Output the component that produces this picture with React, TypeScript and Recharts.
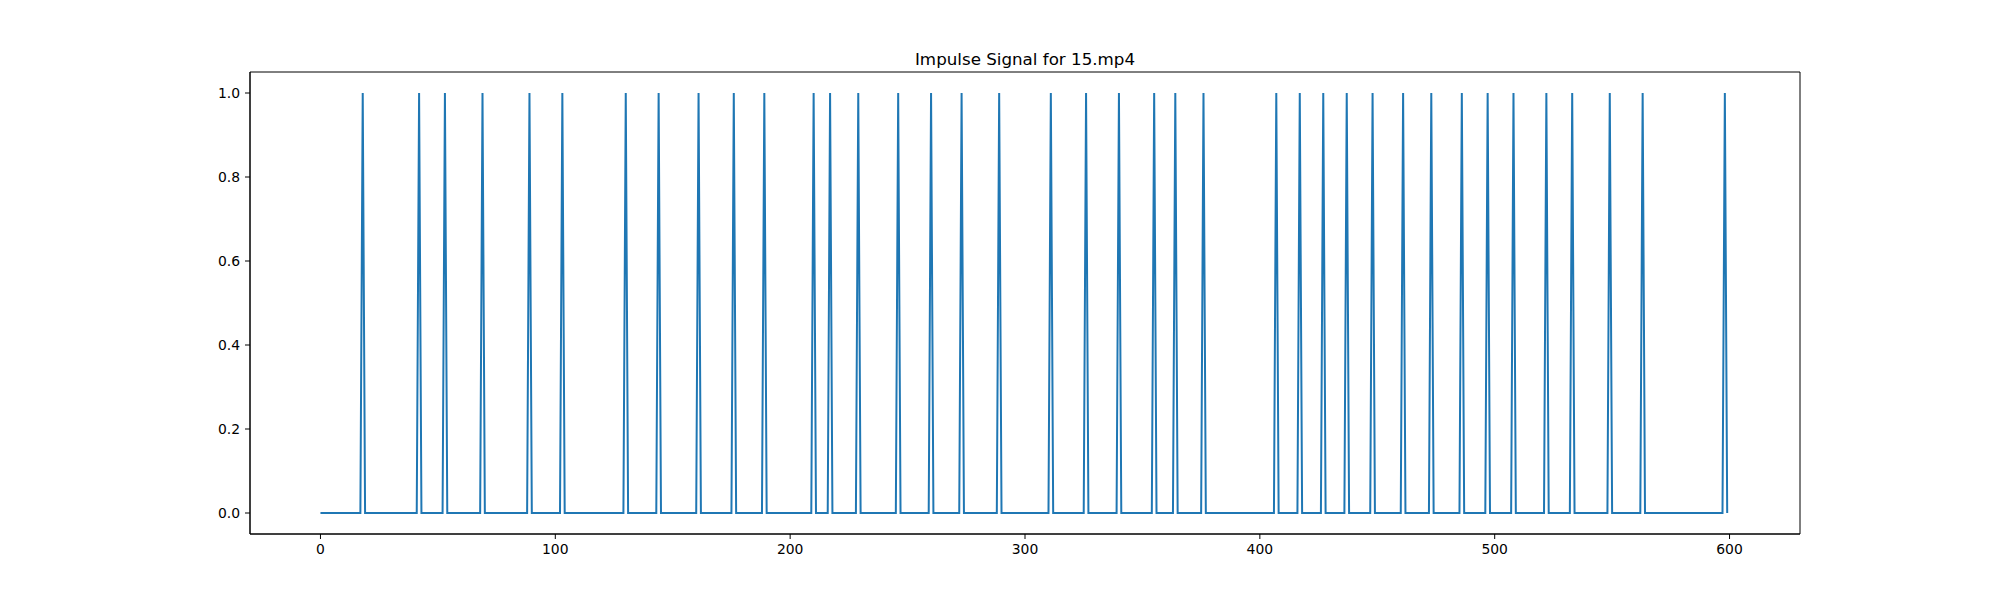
import { LineChart, Line, XAxis, YAxis, ReferenceArea } from "recharts";

// frame indices 0..599, impulses
const FRAME_COUNT = 600;
const SPIKE_FRAMES = [
  18, 42, 53, 69, 89, 103, 130, 144, 161, 176, 189, 210, 217, 229, 246, 260, 273, 289,
  311, 326, 340, 355, 364, 376, 407, 417, 427, 437, 448, 461, 473, 486, 497, 508, 522,
  533, 549, 563, 598,
];
const X_TICKS = [0, 100, 200, 300, 400, 500, 600];
const Y_TICKS = [0, 0.2, 0.4, 0.6, 0.8, 1.0];
const TITLE = "Impulse Signal for 15.mp4";

const spikeSet = new Set(SPIKE_FRAMES);
const data = Array.from({ length: FRAME_COUNT }, (_, frame) => ({
  frame,
  value: spikeSet.has(frame) ? 1 : 0,
}));

const FONT = "'DejaVu Sans', sans-serif";
const tickStyle = { fontSize: 13.9, fill: "#000", fontFamily: FONT };

export default function App() {
  return (
    <div style={{ position: "absolute", left: 0, top: 0, width: 2000, height: 600, background: "#fff" }}>
      <LineChart
        width={2000}
        height={600}
        data={data}
        margin={{ top: 72, right: 200, left: 0, bottom: 0 }}
      >
        <XAxis
          dataKey="frame"
          type="number"
          domain={[-30, 630]}
          ticks={X_TICKS}
          allowDataOverflow
          height={66}
          tick={tickStyle}
          tickSize={5}
          tickMargin={5}
          axisLine={{ stroke: "#000", strokeWidth: 1 }}
          tickLine={{ stroke: "#000", strokeWidth: 1 }}
        />
        <YAxis
          type="number"
          domain={[-0.05, 1.05]}
          ticks={Y_TICKS}
          allowDataOverflow
          width={250}
          tick={tickStyle}
          tickSize={5}
          tickMargin={5}
          tickFormatter={(v: number) => v.toFixed(1)}
          axisLine={{ stroke: "#000", strokeWidth: 1 }}
          tickLine={{ stroke: "#000", strokeWidth: 1 }}
        />
        <Line
          type="linear"
          dataKey="value"
          stroke="#1f77b4"
          strokeWidth={2}
          dot={false}
          activeDot={false}
          isAnimationActive={false}
        />
        <ReferenceArea
          x1={-30}
          x2={630}
          y1={-0.05}
          y2={1.05}
          fill="none"
          fillOpacity={0}
          stroke="#000"
          strokeWidth={1}
        />
      </LineChart>
      <svg
        width={2000}
        height={80}
        style={{ position: "absolute", left: 0, top: 0, pointerEvents: "none" }}
      >
        <text x={1025} y={65} textAnchor="middle" fontSize={16.7} fontFamily={FONT} fill="#000">
          {TITLE}
        </text>
      </svg>
    </div>
  );
}
